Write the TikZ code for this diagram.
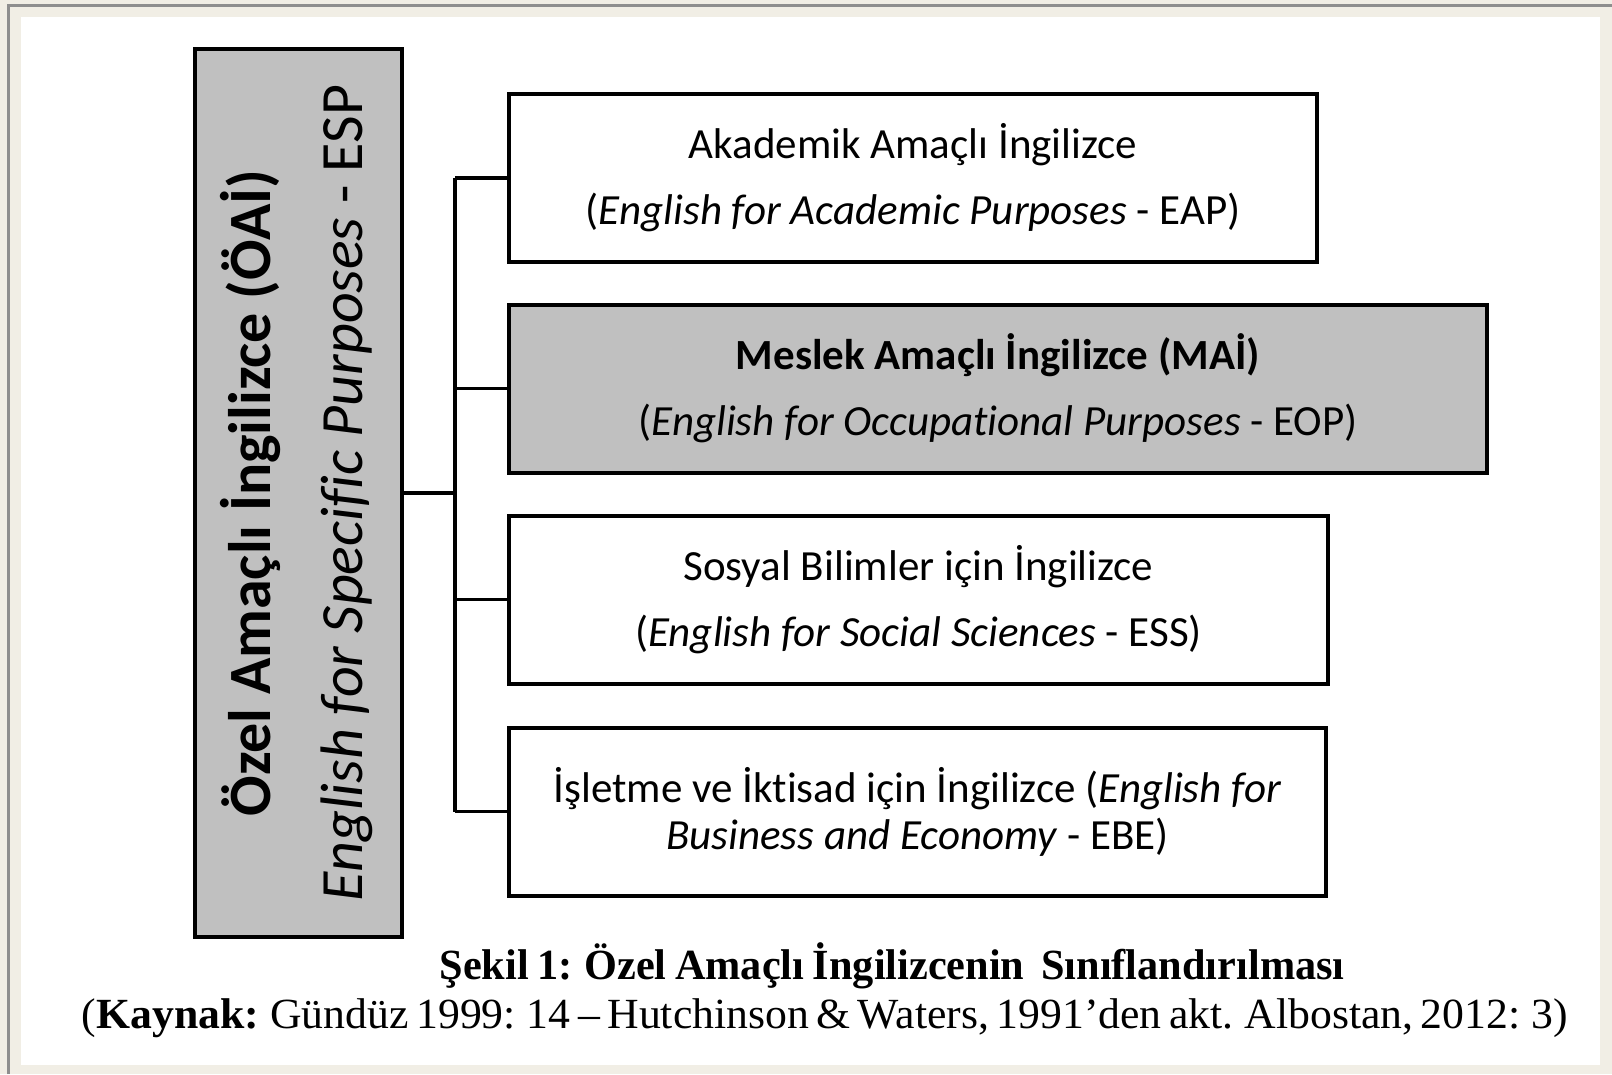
\documentclass[tikz,border=0pt]{standalone}
\usepackage{fontspec}
\usepackage{graphicx}
\setmainfont{Carlito}[Ligatures=NoCommon]
\newfontfamily\capfont{Liberation Serif}
\definecolor{bgbeige}{HTML}{F1EEE5}
\definecolor{framegray}{HTML}{8E8E8E}
\definecolor{boxgray}{HTML}{C0C0C0}
\begin{document}
\begin{tikzpicture}[x=1pt,y=-1pt,
  catbox/.style={draw=black,line width=4pt,minimum height=168pt,inner sep=0pt,align=center,font=\fontsize{43}{66}\selectfont},
  conn/.style={draw=black,line width=3.2pt},
  captxt/.style={inner sep=0pt,anchor=base,font=\capfont\fontsize{43}{48}\selectfont}]
\useasboundingbox (0,0) rectangle (1612,1074);
\fill[bgbeige] (0,0) rectangle (1612,1074);
\draw[framegray,line width=2.5pt] (8.5,1074) -- (8.5,5.5) -- (1612,5.5);
\fill[white] (21,17) rectangle (1600,1065);
% left box
\node[draw=black,fill=boxgray,line width=4pt,minimum width=207pt,minimum height=888pt,inner sep=0pt] (esp) at (298.5,493) {};
\node[rotate=90,align=center,inner sep=0pt,font=\fontsize{60}{92}\selectfont] (esptxt) at ([xshift=-2pt]esp.center) {\textbf{Özel Amaçlı İngilizce (ÖAİ)}\\\textit{English for Specific Purposes} - ESP};
% category boxes
\node[catbox,minimum width=808pt] (b1) at (913,178) {Akademik Amaçlı İngilizce\\(\textit{English for Academic Purposes} - EAP)};
\node[catbox,minimum width=978pt,fill=boxgray] (b2) at (998,388.5) {\textbf{Meslek Amaçlı İngilizce (MAİ)}\\(\textit{English for Occupational Purposes} - EOP)};
\node[catbox,minimum width=819pt] (b3) at (918.5,599.5) {Sosyal Bilimler için İngilizce\\(\textit{English for Social Sciences} - ESS)};
\node[catbox,minimum width=817pt,font=\fontsize{43}{47}\selectfont] (b4) at (917.5,811.5) {İşletme ve İktisad için İngilizce (\textit{English for}\\\textit{Business and Economy} - EBE)};
% connectors
\coordinate (j) at (455,493);
\draw[conn] (esp.east) -- (j);
\draw[conn] (j |- b1.west) -- (j |- b4.west);
\foreach \b in {b1,b2,b3,b4} \draw[conn] (j |- \b.west) -- (\b.west);
% caption
\node[captxt] (cap1) at (892,979) {\resizebox{905pt}{\height}{\spaceskip=0.2em\bfseries Şekil 1: Özel Amaçlı İngilizcenin\ \ Sınıflandırılması}};
\node[captxt] (cap2) at (825,1028) {\resizebox{1486pt}{\height}{\spaceskip=0.17em(\textbf{Kaynak:} Gündüz 1999: 14 – Hutchinson \& Waters, 1991’den akt. Albostan, 2012: 3)}};
\end{tikzpicture}
\end{document}
